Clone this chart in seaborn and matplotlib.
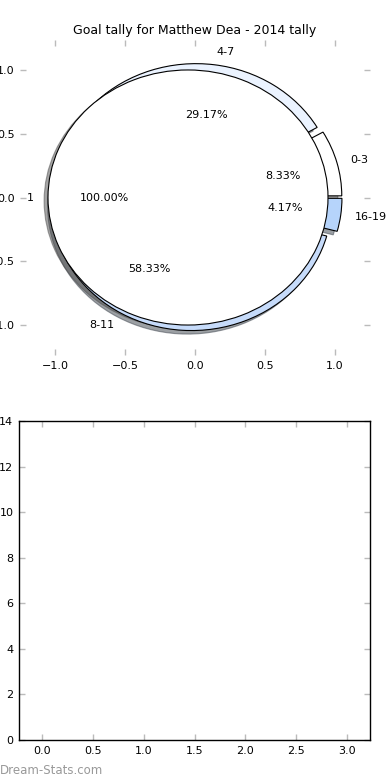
import matplotlib
matplotlib.use("Agg")
import matplotlib.pyplot as plt
import seaborn as sns
import numpy as np

# ---- data ----
title = "Goal tally for Matthew Dea - 2014 tally"
inner_labels = ["1"]
inner_values = [24]
outer_labels = ["0-3", "4-7", "8-11", "16-19"]
outer_values = [2, 7, 14, 1]
outer_colors = ["#ffffff", "#ebf3ff", "#c6dbfa", "#b6d4fb"]
pie_ticks = [-1.0, -0.5, 0.0, 0.5, 1.0]
bar_xticks = [0.0, 0.5, 1.0, 1.5, 2.0, 2.5, 3.0]
bar_yticks = [0, 2, 4, 6, 8, 10, 12, 14]

plt.rcParams['font.family'] = ['DejaVu Sans']

fig = plt.figure(figsize=(3.9, 7.8), dpi=100)
fig.patch.set_facecolor("white")

ax1 = fig.add_axes([20/390, 1 - 355/780, 350/390, 315/780])
ax2 = fig.add_axes([19/390, 1 - 740/780, 351/390, 319/780])

# outer pie (full wedges, exploded) drawn first
ax1.pie(outer_values, labels=outer_labels, colors=outer_colors, autopct="%.2f%%",
        radius=1.0, shadow=True, startangle=0, explode=[0.05] * len(outer_values),
        wedgeprops=dict(edgecolor="black", linewidth=0.8),
        textprops=dict(fontsize=8), frame=True)
# inner pie on top
ax1.pie(inner_values, labels=inner_labels, colors=["white"], autopct="%.2f%%",
        radius=1.0, shadow=True, startangle=0, explode=[0.05],
        wedgeprops=dict(edgecolor="black", linewidth=0.8),
        textprops=dict(fontsize=8), frame=True)

ax1.set_aspect("auto")
ax1.set_xlim(-1.25, 1.25)
ax1.set_ylim(-1.235, 1.235)
ax1.set_xticks(pie_ticks)
ax1.set_yticks(pie_ticks)
sns.despine(ax=ax1, left=True, bottom=True, top=True, right=True)
ax1.set_title(title, fontsize=9, pad=4)

# bottom (empty) axes
ax2.set_xlim(-0.225, 3.225)
ax2.set_ylim(0, 14)
ax2.set_xticks(bar_xticks)
ax2.set_yticks(bar_yticks)
for sp in ax2.spines.values():
    sp.set_color("black")
    sp.set_linewidth(1.0)

for ax in (ax1, ax2):
    ax.tick_params(axis="both", which="both", direction="in", length=4, width=1,
                   color="#bbbbbb", labelcolor="black", labelsize=8,
                   top=True, right=True, pad=4)

fig.text(0.0, 1 - 770/780, "Dream-Stats.com", color="#999999", fontsize=8.5,
         ha="left", va="center")

fig.savefig("out.png", dpi=100, facecolor="white")
